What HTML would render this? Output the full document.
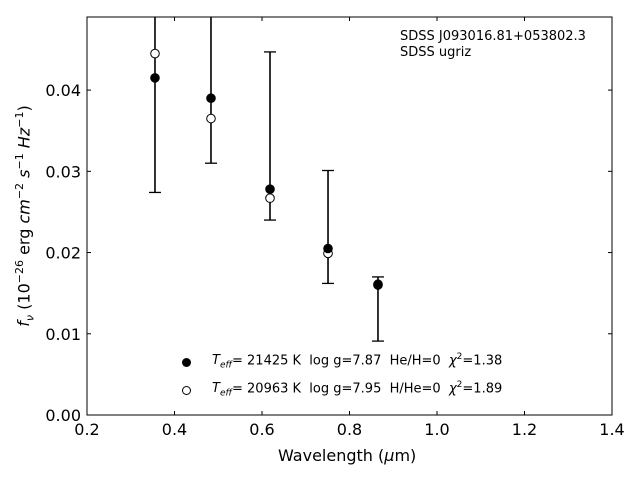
<!DOCTYPE html>
<html><head><meta charset="utf-8"><style>
body{margin:0;background:#fff}
svg{font-family:"DejaVu Sans","Liberation Sans",sans-serif}
</style></head><body>
<svg id="c" width="640" height="480" viewBox="0 0 640 480"></svg>
<script>
const wavelengths=[0.3554,0.4834,0.6183,0.7509,0.8651];
const fluxFilled=[0.0415,0.0390,0.0278,0.0205,0.0160];
const fluxOpen=[0.0445,0.0365,0.0267,0.0199,0.0161];
const errLow=[0.0274,0.0310,0.0240,0.0162,0.0091];
const errHigh=[0.0600,0.0520,0.0447,0.0301,0.0170];
const xTicks=[0.2,0.4,0.6,0.8,1.0,1.2,1.4];
const xTickLabels=["0.2","0.4","0.6","0.8","1.0","1.2","1.4"];
const yTicks=[0,0.01,0.02,0.03,0.04];
const yTickLabels=["0.00","0.01","0.02","0.03","0.04"];

const L=87,R=612,T=17,B=415;
const X=v=>L+(v-0.2)/(1.2)*(R-L);
const Y=v=>B-v/0.049*(B-T);
const svg=document.getElementById('c');
const NS='http://www.w3.org/2000/svg';
function mk(tag,attrs,txt){const e=document.createElementNS(NS,tag);for(const k in attrs)e.setAttribute(k,attrs[k]);if(txt!==undefined)e.textContent=txt;svg.appendChild(e);return e;}
const cp=document.createElementNS(NS,'clipPath');cp.setAttribute('id','clip');
const cr=document.createElementNS(NS,'rect');cr.setAttribute('x',L);cr.setAttribute('y',T);cr.setAttribute('width',R-L);cr.setAttribute('height',B-T);cp.appendChild(cr);svg.appendChild(cp);

xTicks.forEach((v,i)=>{
 const x=X(v);
 const t1=mk('line',{x1:x,x2:x,y1:B,y2:B-4,stroke:'#000'});
 
 
 mk('line',{x1:x,x2:x,y1:T,y2:T+4,stroke:'#000'});
 const l=mk('text',{x:x,y:B+20,'font-size':16,'text-anchor':'middle'},xTickLabels[i]);
 
 
});
yTicks.forEach((v,i)=>{
 const y=Y(v);
 mk('line',{x1:L,x2:L+4,y1:y,y2:y,stroke:'#000'});
 mk('line',{x1:R,x2:R-4,y1:y,y2:y,stroke:'#000'});
 const l=mk('text',{x:L-6,y:y+6,'font-size':16,'text-anchor':'end'},yTickLabels[i]);
 
 
});
const g=document.createElementNS(NS,'g');g.setAttribute('clip-path','url(#clip)');svg.appendChild(g);
function gm(tag,attrs){const e=document.createElementNS(NS,tag);for(const k in attrs)e.setAttribute(k,attrs[k]);g.appendChild(e);return e;}
wavelengths.forEach((w,i)=>{
 const x=X(w);
 const eb=gm('line',{x1:x,x2:x,y1:Y(errLow[i]),y2:Y(errHigh[i]),stroke:'#000','stroke-width':1.6});
 
 
 gm('line',{x1:x-6,x2:x+6,y1:Y(errLow[i]),y2:Y(errLow[i]),stroke:'#000','stroke-width':1.3});
 gm('line',{x1:x-6,x2:x+6,y1:Y(errHigh[i]),y2:Y(errHigh[i]),stroke:'#000','stroke-width':1.3});
});
wavelengths.forEach((w,i)=>{
 const b=gm('circle',{cx:X(w),cy:Y(fluxOpen[i]),r:4.3,fill:'#fff',stroke:'#000'});
 
 
});
wavelengths.forEach((w,i)=>{
 const a=gm('circle',{cx:X(w),cy:Y(fluxFilled[i]),r:4.3,fill:'#000',stroke:'#000'});
 
 
});
const fr=mk('rect',{x:L,y:T,width:R-L,height:B-T,fill:'none',stroke:'#000','stroke-width':1});


</script>
<div style="position:absolute;left:0;top:0;width:640px;height:480px;pointer-events:none;font-family:'DejaVu Sans','Liberation Sans',sans-serif">
 <div style="position:absolute;left:400px;top:29px;font-size:13px">SDSS J093016.81+053802.3</div>
 <div style="position:absolute;left:400px;top:45px;font-size:13px">SDSS ugriz</div>
 <div style="position:absolute;left:278px;top:446px;font-size:16px">Wavelength (<i>μ</i>m)</div>
 <div style="position:absolute;left:25px;top:216px;font-size:16px;transform:translate(-50%,-50%) rotate(-90deg);white-space:nowrap"><i>f<sub style="font-size:11px">ν</sub></i> (10<sup style="font-size:11px">−26</sup> erg <i>cm</i><sup style="font-size:11px">−2</sup> <i>s</i><sup style="font-size:11px">−1</sup> <i>Hz</i><sup style="font-size:11px">−1</sup>)</div>
 <div style="position:absolute;left:180px;top:352px;font-size:13px">
  <div style="position:absolute;left:0;top:0;white-space:nowrap"><span style="display:inline-block;width:9px;height:9px;border-radius:50%;background:#000;position:absolute;left:2px;top:6px"></span><span style="position:absolute;left:32px;top:0"><i>T<sub style="font-size:9px">eff</sub></i>= 21425 K&nbsp; log g=7.87&nbsp; He/H=0&nbsp; <i>χ</i><sup style="font-size:9px">2</sup>=1.38</span></div>
  <div style="position:absolute;left:0;top:28px;white-space:nowrap"><span style="display:inline-block;width:7px;height:7px;border-radius:50%;border:1px solid #000;position:absolute;left:2px;top:6px"></span><span style="position:absolute;left:32px;top:0"><i>T<sub style="font-size:9px">eff</sub></i>= 20963 K&nbsp; log g=7.95&nbsp; H/He=0&nbsp; <i>χ</i><sup style="font-size:9px">2</sup>=1.89</span></div>
 </div>
</div>
</body></html>
